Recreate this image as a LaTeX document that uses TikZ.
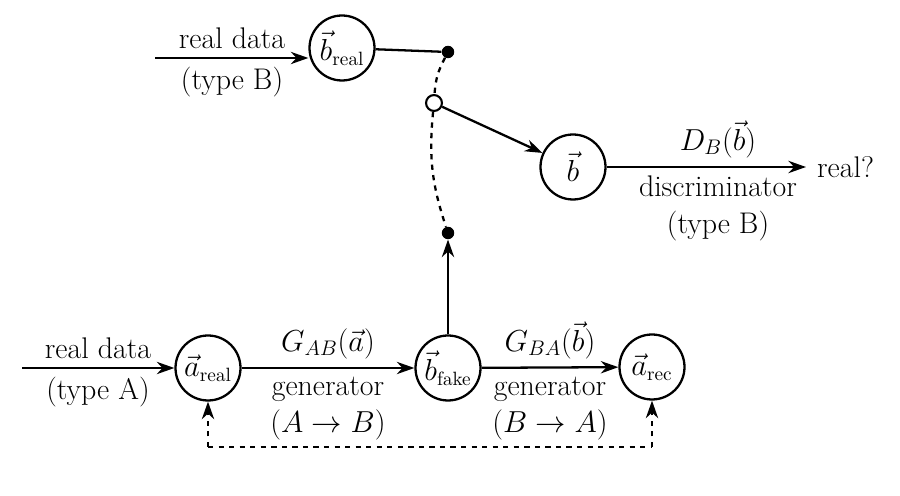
\documentclass[tikz,border=0pt]{standalone}
\usetikzlibrary{arrows.meta}
\begin{document}
\begin{tikzpicture}[x=0.02cm,y=-0.02cm,
  cn/.style={circle,draw,line width=1.3pt,minimum size=1.3cm,inner sep=0pt,font=\fontsize{16}{19}\selectfont},
  ar/.style={-{Stealth[length=10pt,width=7pt]},line width=1.3pt},
  lb/.style={font=\fontsize{17}{21}\selectfont,inner sep=5pt}]
\useasboundingbox (0,0) rectangle (900,496);
\node[cn] (br) at (342,48) {$\vec b_{\mathrm{real}}$};
\node[cn] (b) at (573,167) {$\vec b$};
\node[cn] (ar) at (208,368) {$\vec a_{\mathrm{real}}$};
\node[cn] (bf) at (448,368) {$\vec b_{\mathrm{fake}}$};
\node[cn] (rec) at (652,367) {$\vec a_{\mathrm{rec}}$};
\node[circle,fill,inner sep=2.5pt] (d1) at (448,52) {};
\node[circle,draw,line width=1.2pt,fill=white,inner sep=3.2pt] (oc) at (434,103) {};
\node[circle,fill,inner sep=2.5pt] (d2) at (448,233) {};
\coordinate (s1) at (155,58);
\coordinate (s2) at (22,368);
\coordinate (e1) at (806,167);
\coordinate (l1) at (208,447);
\coordinate (l2) at (652,447);
\draw[ar] (s1) -- (s1 -| br.west);
\node[lb,above] at (232,58) {real data};
\node[lb,below] at (232,58) {(type B)};
\draw[line width=1.3pt] (br) -- (d1);
\draw[line width=1.3pt,dashed] (d1) to[bend right=12] (oc);
\draw[line width=1.3pt,dashed] (oc) to[bend right=12] (d2);
\draw[ar] (oc) -- (b);
\draw[ar] (b) -- (e1);
\node[lb,anchor=west] at (808,167) {real?};
\node[lb,above] at (718,167) {$D_B\bigl(\vec b\bigr)$};
\node[lb,below,align=center] at (718,167) {discriminator\\(type B)};
\draw[ar] (bf) -- (d2);
\draw[ar] (s2) -- (ar);
\node[lb,above] at (98,368) {real data};
\node[lb,below] at (98,368) {(type A)};
\draw[ar] (ar) -- (bf);
\node[lb,above] at (328,368) {$G_{AB}(\vec a)$};
\node[lb,below,align=center] at (328,368) {generator\\$(A\to B)$};
\draw[ar] (bf) -- (rec);
\node[lb,above] at (550,368) {$G_{BA}\bigl(\vec b\bigr)$};
\node[lb,below,align=center] at (550,368) {generator\\$(B\to A)$};
\draw[line width=1.3pt,dashed] (l1) -- (l2);
\draw[ar,dashed] (l1) -- (ar);
\draw[ar,dashed] (l2) -- (rec);
\end{tikzpicture}
\end{document}
